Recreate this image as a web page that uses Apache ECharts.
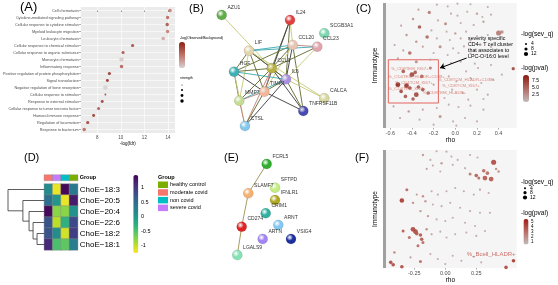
<!DOCTYPE html>
<html>
<head>
<meta charset="utf-8">
<script src="https://cdn.jsdelivr.net/npm/echarts@6/dist/echarts.min.js"></script>
<style>
html, body { margin: 0; padding: 0; background: #fff; }
#main { width: 558px; height: 285px; }
</style>
</head>
<body>
<div id="main"></div>
<script>
/* multi-panel figure: enrichment dots, STRING networks, rho scatters, heatmap */

// (A) GO enrichment
const aTerms = ['Cell chemotaxis', 'Cytokine-mediated signaling pathway', 'Cellular response to cytokine stimulus',
    'Myeloid leukocyte migration', 'Leukocyte chemotaxis', 'Cellular response to chemical stimulus',
    'Cellular response to organic substance', 'Monocyte chemotaxis', 'Inflammatory response',
    'Positive regulation of protein phosphorylation', 'Signal transduction', 'Negative regulation of bone resorption',
    'Cellular response to stimulus', 'Response to external stimulus', 'Cellular response to tumor necrosis factor',
    'Humoral immune response', 'Regulation of locomotion', 'Response to bacterium'];
const aLogFdr = [14.17, 13.97, 13.94, 13.97, 13.6, 11.0, 10.19, 10.06, 10.06, 9.03, 8.86, 8.69, 8.69, 8.42, 8.11, 7.69, 7.19, 6.89];
const aObsBg = [1.8, 2.0, 2.2, 1.8, 1.4, 2.3, 2.2, 1.1, 2.1, 2.5, 2.5, 1.0, 2.4, 2.4, 2.1, 2.5, 2.4, 2.0];
const aStrength = [1.2, 1.1, 1.1, 1.1, 1.2, 1.0, 1.0, 1.5, 1.1, 1.0, 0.9, 1.7, 0.4, 0.9, 1.0, 0.9, 1.0, 1.1];
const aTicks = [8, 10, 12, 14];

// (B) STRING network
const bNodes = ['AZU1', 'IL24', 'SCGB3A1', 'CCL20', 'CCL23', 'LIF', 'HGF', 'CCL3', 'IL6', 'TIMP1', 'MMP7', 'CALCA', 'TNFRSF11B', 'CTSL'];
const bX = [41.7, 110, 144.3, 112.7, 137.3, 69, 54, 91.7, 106, 84.3, 59.3, 144.3, 123.3, 65];
const bY = [15, 20, 33.3, 45, 46.7, 50.7, 71.7, 68.3, 79.3, 91.7, 100.7, 98.3, 111, 126];
const bColors = ['#5fae4a', '#e0403f', '#7fd6b0', '#e8c4b4', '#e2a4ac', '#e2d4ac', '#3fb0b4', '#b8b040', '#a890e0', '#f0b898', '#c4dc94', '#d8d8a4', '#4a4ab4', '#84c8ec'];
const bLinks = [
    ['AZU1', 'CCL3', 0], ['IL24', 'CCL3', 4], ['IL24', 'IL6', 4], ['IL24', 'TIMP1', 1], ['IL24', 'CCL20', 0],
    ['CCL20', 'LIF', 2], ['CCL20', 'HGF', 4], ['CCL20', 'CCL3', 4], ['CCL20', 'IL6', 1], ['CCL20', 'CCL23', 3],
    ['CCL20', 'TNFRSF11B', 4], ['CCL20', 'TIMP1', 0], ['CCL23', 'CCL3', 4], ['CCL23', 'IL6', 0], ['CCL23', 'LIF', 2],
    ['LIF', 'HGF', 4], ['LIF', 'CCL3', 1], ['LIF', 'IL6', 4], ['LIF', 'MMP7', 0], ['LIF', 'TIMP1', 4], ['LIF', 'CALCA', 0],
    ['HGF', 'CCL3', 4], ['HGF', 'IL6', 2], ['HGF', 'MMP7', 4], ['HGF', 'TIMP1', 1], ['HGF', 'CTSL', 0],
    ['CCL3', 'IL6', 4], ['CCL3', 'TIMP1', 3], ['CCL3', 'MMP7', 4], ['CCL3', 'CTSL', 3], ['CCL3', 'TNFRSF11B', 1],
    ['IL6', 'TIMP1', 4], ['IL6', 'MMP7', 2], ['IL6', 'CALCA', 0], ['IL6', 'TNFRSF11B', 4], ['IL6', 'CTSL', 1],
    ['TIMP1', 'MMP7', 3], ['TIMP1', 'CTSL', 4], ['TIMP1', 'TNFRSF11B', 1], ['MMP7', 'CTSL', 3]
];
const evidenceColors = ['#c8c878', '#3a3a3a', '#3aa8b0', '#c08078', '#5e6a2c'];

// (C) rho vs immunotype, LPC-O-16:0  [rho, rank, -log(sev_q), -log(pval)]
const cPoints = [
    [-0.17, 98.7, 3, 1.2], [-0.07, 97.3, 3, 1.2], [0.02, 99.5, 3, 1.5], [0.14, 99, 3, 1.2], [0.30, 96.8, 3, 1.5],
    [-0.34, 94.7, 3, 2], [-0.24, 92.5, 7, 4], [-0.04, 91.5, 3, 1.5], [0.02, 89.9, 3, 1.2], [0.11, 93, 3, 1.5],
    [0.20, 91.5, 4, 2], [0.25, 88.8, 3, 1.2], [0.33, 90.7, 3, 1.5], [-0.39, 87.2, 4, 2.5], [-0.16, 86.1, 3, 1.5],
    [-0.09, 83.5, 6, 3], [0.05, 84, 3, 1.2], [0.17, 82.4, 3, 1.5], [0.26, 85, 4, 2], [-0.50, 81.9, 3, 2],
    [-0.33, 80.8, 8, 6], [-0.22, 78.1, 3, 1.5], [-0.08, 77.1, 3, 1.2], [0.00, 75.7, 4, 2], [0.10, 77.1, 3, 1.5],
    [0.40, 76, 13, 4], [0.43, 76.8, 8, 3], [0.30, 74.4, 3, 1.5], [0.20, 73.3, 3, 1.2], [-0.45, 74.4, 4, 2.5],
    [-0.26, 72.8, 8, 5], [-0.17, 71.7, 3, 1.5], [-0.05, 70.4, 3, 1.2], [0.05, 71.7, 3, 1.5], [0.14, 70.1, 3, 1.2],
    [-0.36, 69.1, 4, 3], [-0.56, 66.4, 3, 2], [-0.30, 65.1, 3, 2], [-0.14, 65.1, 6, 3], [-0.02, 63.7, 3, 1.2],
    [0.08, 65.3, 3, 1.5], [0.23, 66.4, 3, 1.2], [0.33, 64.8, 3, 1.5], [-0.48, 62.1, 3, 2], [-0.42, 60, 8, 5],
    [-0.20, 60, 3, 1.5], [-0.07, 58.4, 3, 1.2], [0.03, 60, 3, 1.5], [0.14, 59.5, 3, 1.2], [0.28, 58.4, 3, 1.5],
    [-0.53, 55.7, 3, 2], [-0.36, 53.1, 6, 3], [-0.23, 54.7, 3, 1.5], [-0.04, 52, 3, 1.2], [0.05, 53.1, 3, 1.5],
    [0.18, 51.5, 3, 1.2], [0.33, 50.4, 3, 1.5], [0.535, 47.5, 7, 7],
    [-0.48, 45.3, 8, 6], [-0.40, 42.7, 12, 7], [-0.37, 44.5, 8, 6], [-0.31, 41.3, 8, 5], [-0.53, 34.7, 12, 9],
    [-0.45, 33.9, 12, 8], [-0.42, 32, 8, 7], [-0.34, 32.8, 8, 6], [-0.30, 30.7, 8, 6], [-0.50, 29.3, 8, 7],
    [-0.36, 26.7, 12, 7], [-0.25, 28, 8, 5], [-0.46, 25.3, 8, 6], [-0.39, 23.2, 8, 6], [-0.20, 34.7, 3, 2],
    [-0.23, 48, 6, 4],
    [-0.57, 17.3, 3, 2], [-0.43, 13.3, 4, 2.5], [-0.30, 14.7, 3, 2], [-0.17, 16, 3, 1.5], [-0.06, 18.7, 3, 1.2],
    [0.03, 16.8, 3, 1.5], [0.14, 17.9, 3, 1.2], [0.26, 14.7, 3, 1.5], [-0.51, 8, 3, 2], [-0.33, 6.7, 3, 1.5],
    [-0.14, 9.3, 6, 2.5], [-0.02, 5.3, 3, 1.2], [0.09, 8, 3, 1.5], [0.20, 5.3, 3, 1.2], [-0.20, 2.7, 3, 1.5],
    [0.01, 1.9, 3, 1.2],
    [-0.06, 41.3, 3, 1.5], [0.01, 37.3, 3, 1.2], [0.14, 40, 3, 1.5], [0.24, 36, 3, 1.2], [0.35, 38.7, 3, 1.5],
    [-0.03, 30.7, 3, 1.2], [0.07, 28, 3, 1.5], [0.20, 30.7, 3, 1.2], [0.30, 26.7, 3, 1.5], [-0.10, 24, 3, 1.2],
    [0.12, 22.7, 3, 1.5], [0.26, 23.2, 3, 1.2], [-0.11, 49.3, 3, 1.5], [0.10, 45.3, 3, 1.2], [0.21, 48, 3, 1.5],
    [0.43, 42.7, 3, 1.2]
];
const cLabels = [
    [-0.594, 47.4, '%_CD8TEM_KI67+'], [-0.62, 41, '%_CD4TEM_HLADR+CD38+'], [-0.557, 36, '%_CD4TCM_KI67+'],
    [-0.16, 38.6, '%_CD8TCM_HLADR+CD38+'], [-0.123, 33.8, '%_CD8TCM_KI67+'], [-0.62, 31.4, '%_CD4TEM_KI67+'],
    [-0.30, 28, '%_CD8TEM_HLADR+']
];
const cRange = [-0.658, 0.567];
const cTicks = [-0.6, -0.4, -0.2, 0, 0.2, 0.4];
const cBox = [[-0.618, 54.6], [-0.156, 20]];
const cArrow = [[0.105, 56], [-0.141, 48]];

// (D) ChoE heatmap
const dRows = ['ChoE\u221218:3', 'ChoE\u221220:5', 'ChoE\u221220:4', 'ChoE\u221222:6', 'ChoE\u221218:2', 'ChoE\u221218:1'];
const dValues = [
    [0.1, -1.2, 1.35, 0.3],
    [0.4, 0.0, -1.2, 1.2],
    [1.35, -0.8, -0.8, 0.05],
    [0.7, -1.0, -0.3, 0.8],
    [0.7, 0.1, -1.1, 0.9],
    [1.1, -0.5, -0.6, 0.25]
];
const dGroupNames = ['healthy control', 'moderate covid', 'non covid', 'severe covid'];
const dGroupColors = ['#7cae00', '#f8766d', '#00bfc4', '#c77cff'];
const dColumnGroup = [1, 3, 2, 0];
// hclust-style merges: negative = leaf (row), positive = earlier merge
const dMerge = [[-5, -6, 0.2], [-4, 1, 0.31], [-3, 2, 0.42], [-2, 3, 0.59], [-1, 4, 1.0]];

// (E) STRING network
const eNodes = ['FCRL5', 'SLAMF7', 'SFTPD', 'IFNLR1', 'CRIM1', 'CD274', 'ARNT', 'ARTN', 'VSIG4', 'LGALS9'];
const eX = [86.7, 68.3, 95, 95, 85.7, 61.7, 98.3, 82.7, 111, 57.3];
const eY = [19, 48.3, 42.7, 55, 68.3, 81.7, 80, 94, 94, 110];
const eColors = ['#2fae2f', '#f4b070', '#c4ee84', '#b0a820', '#2fb0a0', '#e02424', '#84c8f2', '#a284f2', '#1c2ea0', '#84e2b4'];
const eLinks = [['FCRL5', 'SLAMF7'], ['SLAMF7', 'CD274'], ['CD274', 'LGALS9']];

// (F) rho vs immunotype, second lipid  [rho, rank, -log(sev_q), -log(pval)]
const fPoints = [
    [-0.07, 99, 3, 1], [0.01, 98.6, 3, 1], [-0.18, 95.8, 4, 1.5], [-0.12, 91.6, 3, 1], [0.05, 94.4, 3, 1],
    [0.10, 91.6, 3, 1], [0.20, 95.8, 3, 1], [0.26, 93.6, 3, 1], [-0.03, 88.8, 4, 1.5], [-0.10, 86.8, 3, 1],
    [0.06, 87.4, 3, 1], [0.16, 84.6, 3, 1], [-0.15, 84, 3, 1.5], [-0.04, 81.8, 3, 1],
    [0.39, 89.6, 13, 4], [0.41, 84, 4, 2], [0.31, 82.4, 8, 3], [0.34, 80.4, 8, 3], [0.25, 78.4, 8, 3.5],
    [0.27, 76.2, 6, 3], [0.32, 76.2, 12, 3.5], [0.37, 75.4, 12, 3.5], [0.20, 79.6, 6, 2.5], [0.43, 81.8, 4, 2],
    [-0.31, 66.4, 6, 3], [-0.23, 62.2, 3, 1.5], [-0.18, 60.8, 4, 2], [-0.11, 65, 3, 1], [-0.06, 62.2, 3, 1],
    [0.01, 65, 3, 1], [0.08, 67.8, 3, 1], [0.15, 65, 3, 1], [0.23, 62.2, 3, 1], [0.28, 66.4, 3, 1.5], [0.35, 63.6, 3, 1],
    [-0.35, 57.1, 11, 4.5], [-0.26, 55.2, 4, 2], [-0.16, 56.6, 4, 1.5], [-0.10, 53.8, 3, 1], [-0.03, 52.4, 3, 1],
    [0.04, 55.2, 3, 1], [0.12, 51, 3, 1], [0.20, 48.2, 3, 1], [0.28, 46.8, 3, 1], [0.36, 46.8, 3, 1],
    [-0.20, 48.2, 4, 1.5], [-0.14, 44, 4, 1.5], [-0.07, 41.2, 3, 1], [0, 39.8, 3, 1], [0.06, 42.6, 3, 1],
    [0.16, 38.4, 3, 1], [0.24, 35.6, 3, 1],
    [-0.34, 31.4, 6, 3.5], [-0.26, 32.8, 12, 4], [-0.24, 30.8, 12, 4], [-0.23, 29.1, 8, 3.5], [-0.20, 28, 8, 3.5],
    [-0.29, 25.8, 6, 3], [-0.19, 24.4, 8, 3.5], [-0.18, 21.6, 6, 3], [-0.22, 18.8, 6, 3], [-0.15, 32.8, 4, 2],
    [-0.11, 28.6, 3, 1.5], [-0.04, 30.8, 3, 1], [0.01, 25.8, 3, 1], [0.08, 28.6, 3, 1], [0.17, 30, 3, 1],
    [0.25, 27.2, 3, 1], [0.32, 31.4, 3, 1],
    [-0.41, 13.2, 4, 2.5], [-0.44, 4.8, 8, 4], [-0.42, 2.8, 8, 4], [-0.35, 1.1, 8, 4], [-0.28, 9, 3, 1.5],
    [-0.20, 5.6, 6, 3], [-0.12, 11.8, 3, 1], [-0.06, 7.6, 3, 1], [0, 3.4, 3, 1], [0.06, 10.4, 3, 1],
    [0.13, 6.2, 3, 1], [0.23, 9.5, 3, 1], [0.29, 4.8, 3, 1], [0.49, 0.5, 8, 4], [0.55, 6.2, 8, 4.5]
];
const fLabels = [[0.173, 11.2, '%_Bcell_HLADR+']];
const fRange = [-0.494, 0.576];
const fTicks = [-0.5, -0.25, 0, 0.25];

const FONT = 'Liberation Sans';
const chart = echarts.init(document.getElementById('main'));

function sevSize(v) { return 1.2 + 0.3 * v; }

function hidden(gridIndex, min, max, inverse) {
    return { type: 'value', gridIndex: gridIndex, min: min, max: max, inverse: !!inverse, show: false };
}

function networkSeries(xi, names, xs, ys, colors, links, linkColor) {
    return {
        type: 'graph', coordinateSystem: 'cartesian2d', xAxisIndex: xi, yAxisIndex: xi,
        symbolSize: 10, silent: true,
        data: names.map((n, i) => ({
            name: n, value: [xs[i], ys[i]],
            itemStyle: {
                color: {
                    type: 'radial', x: 0.38, y: 0.35, r: 0.7,
                    colorStops: [{ offset: 0, color: 'rgba(255,255,255,0.85)' }, { offset: 0.45, color: colors[i] }, { offset: 1, color: colors[i] }]
                },
                borderColor: 'rgba(0,0,0,0.25)', borderWidth: 0.4
            }
        })),
        links: links.map(l => ({
            source: l[0], target: l[1],
            lineStyle: { color: linkColor ? linkColor : evidenceColors[l[2]] }
        })),
        lineStyle: { width: 1, opacity: 0.9 },
        label: { show: true, position: [11, -5], fontSize: 5, color: '#333', fontFamily: FONT }
    };
}

// grey immunotype bar on the left edge of a rho panel
function immunoBar(xMin) {
    return [
        { coord: [xMin, 0], symbol: 'none', lineStyle: { color: '#a0a0a0', width: 3, type: 'solid' } },
        { coord: [xMin, 100], symbol: 'none' }
    ];
}

// dendrogram segments from merge table
const dPos = [];
const dLines = [];
function nodeOf(k) { return k < 0 ? [0, -k - 1 + 0.5] : dPos[k - 1]; }
dMerge.forEach(m => {
    const a = nodeOf(m[0]), b = nodeOf(m[1]), h = m[2];
    dLines.push({ coords: [[a[0], a[1]], [h, a[1]], [h, b[1]], [b[0], b[1]]] });
    dPos.push([h, (a[1] + b[1]) / 2]);
});

const heatData = [];
dValues.forEach((row, r) => row.forEach((v, c) => heatData.push([c, r, v])));

const smallLabel = { fontSize: 5.5, color: '#4d4d4d', fontFamily: FONT, margin: 2 };

function immunoAxis(gridIndex) {
    return {
        type: 'value', gridIndex: gridIndex, min: 0, max: 100,
        name: 'Immunotype', nameLocation: 'middle', nameGap: 5, nameRotate: 90,
        nameTextStyle: { fontSize: 6.5, color: '#000', fontFamily: FONT },
        axisLine: { show: false }, axisTick: { show: false }, axisLabel: { show: false }, splitLine: { show: false }
    };
}

function rhoAxis(gridIndex, range, ticks, digits) {
    return {
        type: 'value', gridIndex: gridIndex, min: range[0], max: range[1], position: 'bottom',
        name: 'rho', nameLocation: 'middle', nameGap: 9,
        nameTextStyle: { fontSize: 6.5, color: '#000', fontFamily: FONT },
        axisLine: { show: false, onZero: false },
        axisTick: { show: true, customValues: ticks, length: 1.5, lineStyle: { color: '#555', width: 0.5 } },
        axisLabel: Object.assign({ customValues: ticks, formatter: v => v.toFixed(digits) }, smallLabel),
        splitLine: { show: false }
    };
}

const option = {
    backgroundColor: '#fff',
    animation: false,
    textStyle: { fontFamily: FONT },
    grid: [
        { left: 79, top: 7, width: 96, height: 126, show: true, backgroundColor: '#ebebeb', borderWidth: 0 },
        { left: 180, top: 0, width: 190, height: 145 },
        { left: 384, top: 3, width: 132.7, height: 125, show: true, backgroundColor: '#f5f5f5', borderWidth: 0 },
        { left: 44.3, top: 184, width: 33.4, height: 66 },
        { left: 44.3, top: 175, width: 33.4, height: 5.5 },
        { left: 8, top: 184, width: 36.3, height: 66 },
        { left: 180, top: 145, width: 190, height: 140 },
        { left: 384, top: 150, width: 132.7, height: 119, show: true, backgroundColor: '#f5f5f5', borderWidth: 0 }
    ],
    xAxis: [
        {
            type: 'value', gridIndex: 0, min: 6.6, max: 14.6,
            name: '-log(fdr)', nameLocation: 'middle', nameGap: 8,
            nameTextStyle: { fontSize: 4.5, color: '#000', fontFamily: FONT },
            axisLine: { show: false },
            axisTick: { show: true, customValues: aTicks, length: 1.5, lineStyle: { color: '#333', width: 0.5 } },
            axisLabel: { customValues: aTicks, fontSize: 4.5, color: '#4d4d4d', margin: 2 },
            splitLine: { show: true, lineStyle: { color: '#fff', width: 0.6 } }
        },
        hidden(1, 0, 190),
        rhoAxis(2, cRange, cTicks, 1),
        { type: 'category', gridIndex: 3, data: ['1', '2', '3', '4'], show: false },
        { type: 'category', gridIndex: 4, data: ['1', '2', '3', '4'], show: false },
        hidden(5, 0, 1, true),
        hidden(6, 0, 190),
        rhoAxis(7, fRange, fTicks, 2)
    ],
    yAxis: [
        {
            type: 'value', gridIndex: 0, min: -0.5, max: 17.5, inverse: true,
            axisLine: { show: false },
            axisTick: { show: true, customValues: aTerms.map((t, i) => i), length: 1.5, lineStyle: { color: '#333', width: 0.5 } },
            axisLabel: { customValues: aTerms.map((t, i) => i), formatter: v => aTerms[v], fontSize: 3.8, color: '#4d4d4d', margin: 2 },
            splitLine: { show: true, lineStyle: { color: '#fff', width: 0.6 } }
        },
        hidden(1, 0, 145, true),
        immunoAxis(2),
        {
            type: 'category', gridIndex: 3, data: dRows, inverse: true, position: 'right',
            axisLine: { show: false }, axisTick: { show: false },
            axisLabel: { fontSize: 8, color: '#000', margin: 2, fontFamily: FONT }
        },
        {
            type: 'category', gridIndex: 4, data: ['Group'], position: 'right',
            axisLine: { show: false }, axisTick: { show: false },
            axisLabel: { fontSize: 5.5, fontWeight: 'bold', color: '#000', margin: 2, fontFamily: FONT }
        },
        hidden(5, 0, 6, true),
        hidden(6, 0, 140, true),
        immunoAxis(7)
    ],
    visualMap: [
        {
            type: 'continuous', seriesIndex: 0, dimension: 2, min: 1.0, max: 2.5,
            left: 179, top: 42, itemWidth: 6, itemHeight: 26, padding: 0,
            calculable: false, text: null, showLabel: false,
            inRange: { color: ['#d6d0d0', '#c27268', '#8e1f14'] }
        },
        {
            type: 'continuous', seriesIndex: 2, dimension: 3, min: 0, max: 9.7,
            left: 523, top: 75, itemWidth: 6, itemHeight: 27, padding: 0,
            calculable: false, text: null,
            inRange: { color: ['#c4bcbc', '#b06a62', '#8b1a10'] }
        },
        {
            type: 'continuous', seriesIndex: 4, dimension: 2, min: -1.28, max: 1.4,
            left: 133.3, top: 175, itemWidth: 5, itemHeight: 78, padding: 0,
            calculable: false, text: null,
            inRange: { color: ['#fde725', '#b5de2b', '#6ece58', '#35b779', '#1f9e89', '#26828e', '#31688e', '#3e4989', '#482878', '#440154'] }
        },
        {
            type: 'piecewise', seriesIndex: 5, dimension: 2,
            pieces: dGroupNames.map((n, i) => ({ value: i, label: n, color: dGroupColors[i] })),
            left: 158, top: 181.5, itemWidth: 10, itemHeight: 6.5, itemGap: 1.2, itemSymbol: 'rect',
            padding: 0, inverse: true, textGap: 2,
            textStyle: { fontSize: 5.5, color: '#000', fontFamily: FONT }
        },
        {
            type: 'continuous', seriesIndex: 8, dimension: 3, min: 0.2, max: 5.4,
            left: 523.5, top: 219, itemWidth: 5, itemHeight: 25.5, padding: 0,
            calculable: false, text: null,
            inRange: { color: ['#c4bcbc', '#b86e66', '#a01c12'] }
        }
    ],
    series: [
        {
            type: 'scatter', xAxisIndex: 0, yAxisIndex: 0,
            data: aTerms.map((t, i) => [aLogFdr[i], i, aObsBg[i], aStrength[i]]),
            symbolSize: d => 1 + 2.2 * d[3]
        },
        networkSeries(1, bNodes, bX, bY, bColors, bLinks),
        {
            type: 'scatter', xAxisIndex: 2, yAxisIndex: 2,
            data: cPoints, symbolSize: d => sevSize(d[2]),
            itemStyle: { opacity: 0.9 },
            markArea: {
                silent: true,
                itemStyle: { color: 'rgba(0,0,0,0)', borderColor: '#e0403a', borderWidth: 0.8 },
                data: [[{ coord: cBox[0] }, { coord: cBox[1] }]]
            },
            markLine: {
                silent: true, symbol: ['none', 'arrow'], symbolSize: 5,
                lineStyle: { color: '#000', width: 1, type: 'solid' },
                label: { show: false },
                data: [
                    [{ coord: cArrow[0] }, { coord: cArrow[1] }],
                    immunoBar(cRange[0])
                ]
            }
        },
        {
            type: 'scatter', xAxisIndex: 2, yAxisIndex: 2, symbolSize: 0, silent: true,
            data: cLabels.map(l => ({ value: [l[0], l[1]], name: l[2] })),
            label: { show: true, formatter: '{b}', position: 'right', distance: 0, fontSize: 4.3, color: '#d46a60', fontFamily: FONT }
        },
        {
            type: 'heatmap', xAxisIndex: 3, yAxisIndex: 3, data: heatData,
            itemStyle: { borderColor: '#8c8c8c', borderWidth: 0.4 }
        },
        {
            type: 'heatmap', xAxisIndex: 4, yAxisIndex: 4,
            data: dColumnGroup.map((g, c) => [c, 0, g]),
            itemStyle: { borderColor: '#8c8c8c', borderWidth: 0.4 }
        },
        {
            type: 'lines', coordinateSystem: 'cartesian2d', xAxisIndex: 5, yAxisIndex: 5,
            polyline: true, silent: true, data: dLines,
            lineStyle: { color: '#333', width: 0.8, opacity: 1 }
        },
        networkSeries(6, eNodes, eX, eY, eColors, eLinks, '#a09050'),
        {
            type: 'scatter', xAxisIndex: 7, yAxisIndex: 7,
            data: fPoints, symbolSize: d => sevSize(d[2]),
            itemStyle: { opacity: 0.9 },
            markLine: {
                silent: true, symbol: 'none', label: { show: false },
                data: [immunoBar(fRange[0])]
            }
        },
        {
            type: 'scatter', xAxisIndex: 7, yAxisIndex: 7, symbolSize: 0, silent: true,
            data: fLabels.map(l => ({ value: [l[0], l[1]], name: l[2] })),
            label: { show: true, formatter: '{b}', position: 'right', distance: 0, fontSize: 6, color: '#c0504a', fontFamily: FONT }
        }
    ],
    graphic: [
        { type: 'text', left: 20, top: 1, style: { text: '(A)', fontSize: 13, fill: '#000', fontFamily: FONT } },
        { type: 'text', left: 189, top: 3, style: { text: '(B)', fontSize: 11, fill: '#000', fontFamily: FONT } },
        { type: 'text', left: 356, top: 3, style: { text: '(C)', fontSize: 11, fill: '#000', fontFamily: FONT } },
        { type: 'text', left: 24, top: 152, style: { text: '(D)', fontSize: 11, fill: '#000', fontFamily: FONT } },
        { type: 'text', left: 224, top: 152, style: { text: '(E)', fontSize: 11, fill: '#000', fontFamily: FONT } },
        { type: 'text', left: 355, top: 152, style: { text: '(F)', fontSize: 11, fill: '#000', fontFamily: FONT } },
        // (A) legends
        { type: 'text', left: 180, top: 36, style: { text: '-log(Observed/Background)', fontSize: 3.5, fill: '#000', fontFamily: FONT } },
        { type: 'text', left: 180, top: 76, style: { text: 'strength', fontSize: 3.5, fill: '#000', fontFamily: FONT } },
        { type: 'circle', shape: { cx: 182, cy: 85, r: 0.5 }, style: { fill: '#000' } },
        { type: 'circle', shape: { cx: 182, cy: 90, r: 1.0 }, style: { fill: '#000' } },
        { type: 'circle', shape: { cx: 182, cy: 95.5, r: 1.4 }, style: { fill: '#000' } },
        { type: 'circle', shape: { cx: 182, cy: 101, r: 1.7 }, style: { fill: '#000' } },
        // (C) annotation and legends
        { type: 'text', left: 468, top: 35.5, style: { text: 'severity specific\nCD4+ T cell cluster\nthat associates to\nLPC-O-16:0 level', fontSize: 5.3, lineHeight: 6, fill: '#000', fontFamily: FONT } },
        { type: 'text', left: 521, top: 31, style: { text: '-log(sev_q)', fontSize: 6.5, fill: '#000', fontFamily: FONT } },
        { type: 'circle', shape: { cx: 526, cy: 44, r: 1.0 }, style: { fill: '#000' } },
        { type: 'circle', shape: { cx: 526, cy: 49, r: 1.6 }, style: { fill: '#000' } },
        { type: 'circle', shape: { cx: 526, cy: 54, r: 2.1 }, style: { fill: '#000' } },
        { type: 'text', left: 531, top: 41.5, style: { text: '4', fontSize: 5, fill: '#000', fontFamily: FONT } },
        { type: 'text', left: 531, top: 46.5, style: { text: '8', fontSize: 5, fill: '#000', fontFamily: FONT } },
        { type: 'text', left: 531, top: 51.5, style: { text: '12', fontSize: 5, fill: '#000', fontFamily: FONT } },
        { type: 'text', left: 521, top: 64.5, style: { text: '-log(pval)', fontSize: 6.5, fill: '#000', fontFamily: FONT } },
        { type: 'text', left: 532, top: 78.5, style: { text: '7.5', fontSize: 5, fill: '#000', fontFamily: FONT } },
        { type: 'text', left: 532, top: 85.2, style: { text: '5.0', fontSize: 5, fill: '#000', fontFamily: FONT } },
        { type: 'text', left: 532, top: 92.2, style: { text: '2.5', fontSize: 5, fill: '#000', fontFamily: FONT } },
        // (D) legends
        { type: 'text', left: 141, top: 184.2, style: { text: '1', fontSize: 5.5, fill: '#000', fontFamily: FONT } },
        { type: 'text', left: 141, top: 199.8, style: { text: '0.5', fontSize: 5.5, fill: '#000', fontFamily: FONT } },
        { type: 'text', left: 141, top: 213.5, style: { text: '0', fontSize: 5.5, fill: '#000', fontFamily: FONT } },
        { type: 'text', left: 141, top: 228.5, style: { text: '-0.5', fontSize: 5.5, fill: '#000', fontFamily: FONT } },
        { type: 'text', left: 141, top: 242.5, style: { text: '-1', fontSize: 5.5, fill: '#000', fontFamily: FONT } },
        { type: 'text', left: 158, top: 174, style: { text: 'Group', fontSize: 5.5, fontWeight: 'bold', fill: '#000', fontFamily: FONT } },
        // (F) legends
        { type: 'text', left: 521, top: 178.5, style: { text: '-log(sev_q)', fontSize: 6.5, fill: '#000', fontFamily: FONT } },
        { type: 'circle', shape: { cx: 525, cy: 188.3, r: 1.0 }, style: { fill: '#000' } },
        { type: 'circle', shape: { cx: 525, cy: 192.7, r: 1.6 }, style: { fill: '#000' } },
        { type: 'circle', shape: { cx: 525, cy: 197.5, r: 2.1 }, style: { fill: '#000' } },
        { type: 'text', left: 530, top: 186, style: { text: '4', fontSize: 5, fill: '#000', fontFamily: FONT } },
        { type: 'text', left: 530, top: 190.5, style: { text: '8', fontSize: 5, fill: '#000', fontFamily: FONT } },
        { type: 'text', left: 530, top: 195, style: { text: '12', fontSize: 5, fill: '#000', fontFamily: FONT } },
        { type: 'text', left: 521, top: 209.5, style: { text: '-log(pval)', fontSize: 6.5, fill: '#000', fontFamily: FONT } },
        { type: 'text', left: 531, top: 219.3, style: { text: '5', fontSize: 4.5, fill: '#000', fontFamily: FONT } },
        { type: 'text', left: 531, top: 224.3, style: { text: '4', fontSize: 4.5, fill: '#000', fontFamily: FONT } },
        { type: 'text', left: 531, top: 229.3, style: { text: '3', fontSize: 4.5, fill: '#000', fontFamily: FONT } },
        { type: 'text', left: 531, top: 234.3, style: { text: '2', fontSize: 4.5, fill: '#000', fontFamily: FONT } },
        { type: 'text', left: 531, top: 239.3, style: { text: '1', fontSize: 4.5, fill: '#000', fontFamily: FONT } }
    ]
};

chart.setOption(option);
</script>
</body>
</html>
